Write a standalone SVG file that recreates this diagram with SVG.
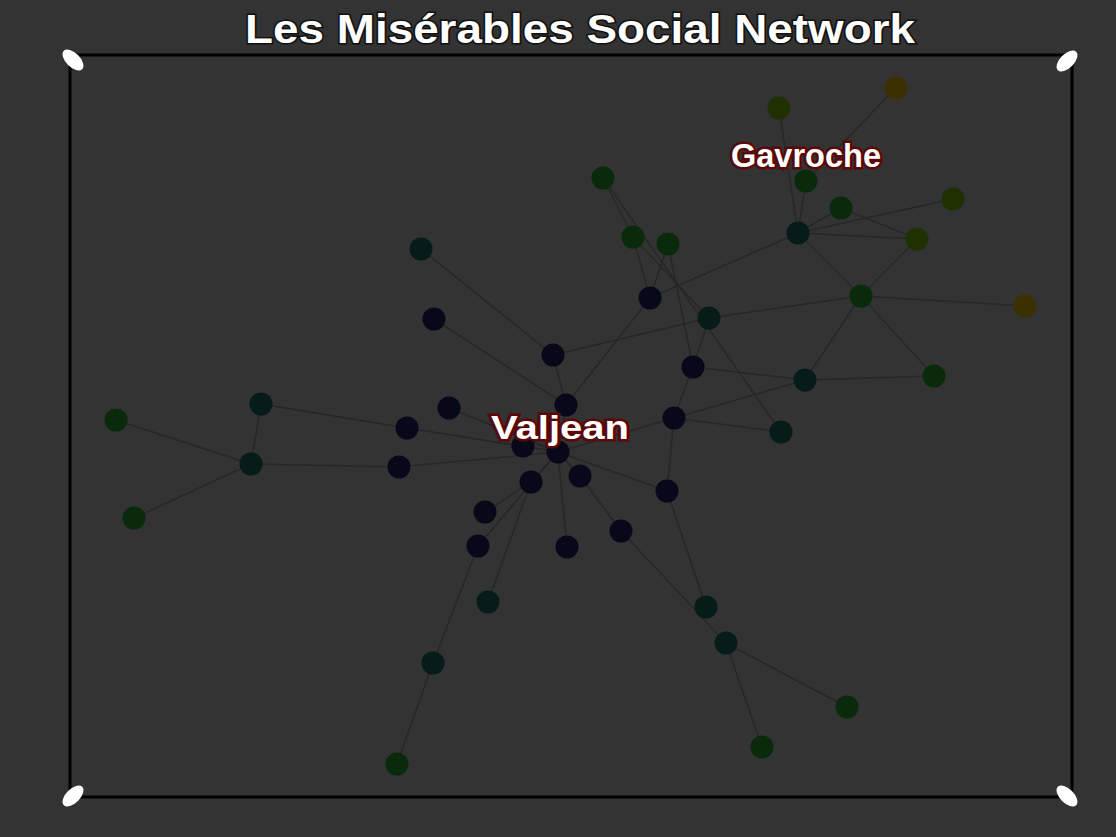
<svg xmlns="http://www.w3.org/2000/svg" width="1116" height="837" viewBox="0 0 1116 837">
<style>
.bg{fill:#333333}
.frame{fill:none;stroke:#000;stroke-width:3}
.corner{fill:#ffffff}
#links line{stroke:#262626;stroke-width:1.5;stroke-opacity:0.9}
.n circle{r:11.5px}
.navy{fill:#07081a}
.teal{fill:#061c19}
.green{fill:#0a2a0c}
.olive{fill:#1f3100}
.brown{fill:#3b3000}
.title{font-family:"Liberation Sans",Arial,sans-serif;font-weight:bold;font-size:40px;fill:#fff;stroke:#111;stroke-width:3;paint-order:stroke}
.lbl{font-family:"Liberation Sans",Arial,sans-serif;font-weight:bold;font-size:34px;fill:#fff;stroke:#5a0808;stroke-width:5;paint-order:stroke;text-anchor:middle}
</style>
<rect class="bg" x="0" y="0" width="1116" height="837"/>
<rect class="frame" x="70" y="55" width="1002" height="742"/>
<g id="corners">
<ellipse class="corner" cx="73" cy="60" rx="13" ry="7" transform="rotate(45 73 60)"/>
<ellipse class="corner" cx="1067" cy="61" rx="13" ry="7" transform="rotate(-45 1067 61)"/>
<ellipse class="corner" cx="73" cy="796" rx="13" ry="7" transform="rotate(-45 73 796)"/>
<ellipse class="corner" cx="1067" cy="796" rx="13" ry="7" transform="rotate(45 1067 796)"/>
</g>
<text class="title" x="245" y="43" textLength="670" lengthAdjust="spacingAndGlyphs">Les Misérables Social Network</text>
<g id="links">
<line x1="896" y1="88" x2="806" y2="181"/>
<line x1="779" y1="108" x2="798" y2="233"/>
<line x1="806" y1="181" x2="798" y2="233"/>
<line x1="603" y1="178" x2="633" y2="237"/>
<line x1="603" y1="178" x2="781" y2="432"/>
<line x1="633" y1="237" x2="650" y2="298"/>
<line x1="633" y1="237" x2="709" y2="318"/>
<line x1="668" y1="244" x2="650" y2="298"/>
<line x1="668" y1="244" x2="693" y2="367"/>
<line x1="709" y1="318" x2="693" y2="367"/>
<line x1="650" y1="298" x2="798" y2="233"/>
<line x1="709" y1="318" x2="861" y2="296"/>
<line x1="798" y1="233" x2="841" y2="208"/>
<line x1="798" y1="233" x2="953" y2="199"/>
<line x1="798" y1="233" x2="917" y2="239"/>
<line x1="798" y1="233" x2="861" y2="296"/>
<line x1="841" y1="208" x2="917" y2="239"/>
<line x1="917" y1="239" x2="861" y2="296"/>
<line x1="861" y1="296" x2="1025" y2="306"/>
<line x1="861" y1="296" x2="805" y2="380"/>
<line x1="861" y1="296" x2="934" y2="376"/>
<line x1="805" y1="380" x2="934" y2="376"/>
<line x1="693" y1="367" x2="805" y2="380"/>
<line x1="674" y1="418" x2="805" y2="380"/>
<line x1="674" y1="418" x2="781" y2="432"/>
<line x1="693" y1="367" x2="674" y2="418"/>
<line x1="650" y1="298" x2="566" y2="405"/>
<line x1="709" y1="318" x2="553" y2="355"/>
<line x1="421" y1="249" x2="553" y2="355"/>
<line x1="434" y1="319" x2="566" y2="405"/>
<line x1="553" y1="355" x2="566" y2="405"/>
<line x1="566" y1="405" x2="558" y2="452"/>
<line x1="449" y1="408" x2="558" y2="452"/>
<line x1="407" y1="428" x2="558" y2="452"/>
<line x1="399" y1="467" x2="558" y2="452"/>
<line x1="523" y1="446" x2="558" y2="452"/>
<line x1="674" y1="418" x2="558" y2="452"/>
<line x1="674" y1="418" x2="667" y2="491"/>
<line x1="116" y1="420" x2="251" y2="464"/>
<line x1="134" y1="518" x2="251" y2="464"/>
<line x1="261" y1="404" x2="251" y2="464"/>
<line x1="261" y1="404" x2="407" y2="428"/>
<line x1="251" y1="464" x2="399" y2="467"/>
<line x1="558" y1="452" x2="531" y2="482"/>
<line x1="531" y1="482" x2="485" y2="512"/>
<line x1="558" y1="452" x2="478" y2="546"/>
<line x1="531" y1="482" x2="488" y2="602"/>
<line x1="478" y1="546" x2="433" y2="663"/>
<line x1="433" y1="663" x2="397" y2="764"/>
<line x1="558" y1="452" x2="567" y2="547"/>
<line x1="558" y1="452" x2="580" y2="476"/>
<line x1="580" y1="476" x2="621" y2="531"/>
<line x1="558" y1="452" x2="667" y2="491"/>
<line x1="621" y1="531" x2="726" y2="643"/>
<line x1="667" y1="491" x2="706" y2="607"/>
<line x1="726" y1="643" x2="847" y2="707"/>
<line x1="726" y1="643" x2="762" y2="747"/>
</g>
<g id="nodes">
<g id="n1" class="n"><circle class="brown" cx="896" cy="88"/></g>
<g id="n2" class="n"><circle class="olive" cx="779" cy="108"/></g>
<g id="n3" class="n"><circle class="green" cx="603" cy="178"/></g>
<g id="n4" class="n"><circle class="green" cx="806" cy="181"/></g>
<g id="n5" class="n"><circle class="green" cx="841" cy="208"/></g>
<g id="n6" class="n"><circle class="olive" cx="953" cy="199"/></g>
<g id="n7" class="n"><circle class="green" cx="633" cy="237"/></g>
<g id="n8" class="n"><circle class="green" cx="668" cy="244"/></g>
<g id="n9" class="n"><circle class="teal" cx="798" cy="233"/></g>
<g id="n10" class="n"><circle class="olive" cx="917" cy="239"/></g>
<g id="n11" class="n"><circle class="navy" cx="650" cy="298"/></g>
<g id="n12" class="n"><circle class="teal" cx="709" cy="318"/></g>
<g id="n13" class="n"><circle class="green" cx="861" cy="296"/></g>
<g id="n14" class="n"><circle class="brown" cx="1025" cy="306"/></g>
<g id="n15" class="n"><circle class="navy" cx="693" cy="367"/></g>
<g id="n16" class="n"><circle class="teal" cx="805" cy="380"/></g>
<g id="n17" class="n"><circle class="green" cx="934" cy="376"/></g>
<g id="n18" class="n"><circle class="teal" cx="421" cy="249"/></g>
<g id="n19" class="n"><circle class="navy" cx="434" cy="319"/></g>
<g id="n20" class="n"><circle class="navy" cx="553" cy="355"/></g>
<g id="n21" class="n"><circle class="navy" cx="566" cy="405"/></g>
<g id="n22" class="n"><circle class="navy" cx="449" cy="408"/></g>
<g id="n23" class="n"><circle class="navy" cx="407" cy="428"/></g>
<g id="n24" class="n"><circle class="navy" cx="674" cy="418"/></g>
<g id="n25" class="n"><circle class="navy" cx="399" cy="467"/></g>
<g id="n26" class="n"><circle class="navy" cx="523" cy="446"/></g>
<g id="n27" class="n"><circle class="navy" cx="558" cy="452"/></g>
<g id="n28" class="n"><circle class="teal" cx="781" cy="432"/></g>
<g id="n29" class="n"><circle class="green" cx="116" cy="420"/></g>
<g id="n30" class="n"><circle class="teal" cx="261" cy="404"/></g>
<g id="n31" class="n"><circle class="teal" cx="251" cy="464"/></g>
<g id="n32" class="n"><circle class="green" cx="134" cy="518"/></g>
<g id="n33" class="n"><circle class="navy" cx="531" cy="482"/></g>
<g id="n34" class="n"><circle class="navy" cx="580" cy="476"/></g>
<g id="n35" class="n"><circle class="navy" cx="485" cy="512"/></g>
<g id="n36" class="n"><circle class="navy" cx="478" cy="546"/></g>
<g id="n37" class="n"><circle class="navy" cx="567" cy="547"/></g>
<g id="n38" class="n"><circle class="navy" cx="621" cy="531"/></g>
<g id="n39" class="n"><circle class="navy" cx="667" cy="491"/></g>
<g id="n40" class="n"><circle class="teal" cx="488" cy="602"/></g>
<g id="n41" class="n"><circle class="teal" cx="433" cy="663"/></g>
<g id="n42" class="n"><circle class="green" cx="397" cy="764"/></g>
<g id="n43" class="n"><circle class="teal" cx="706" cy="607"/></g>
<g id="n44" class="n"><circle class="teal" cx="726" cy="643"/></g>
<g id="n45" class="n"><circle class="green" cx="847" cy="707"/></g>
<g id="n46" class="n"><circle class="green" cx="762" cy="747"/></g>
</g>
<g id="labels">
<text class="lbl" x="806" y="167" textLength="150" lengthAdjust="spacingAndGlyphs">Gavroche</text>
<text class="lbl" x="560" y="439" textLength="138" lengthAdjust="spacingAndGlyphs">Valjean</text>
</g>
</svg>
